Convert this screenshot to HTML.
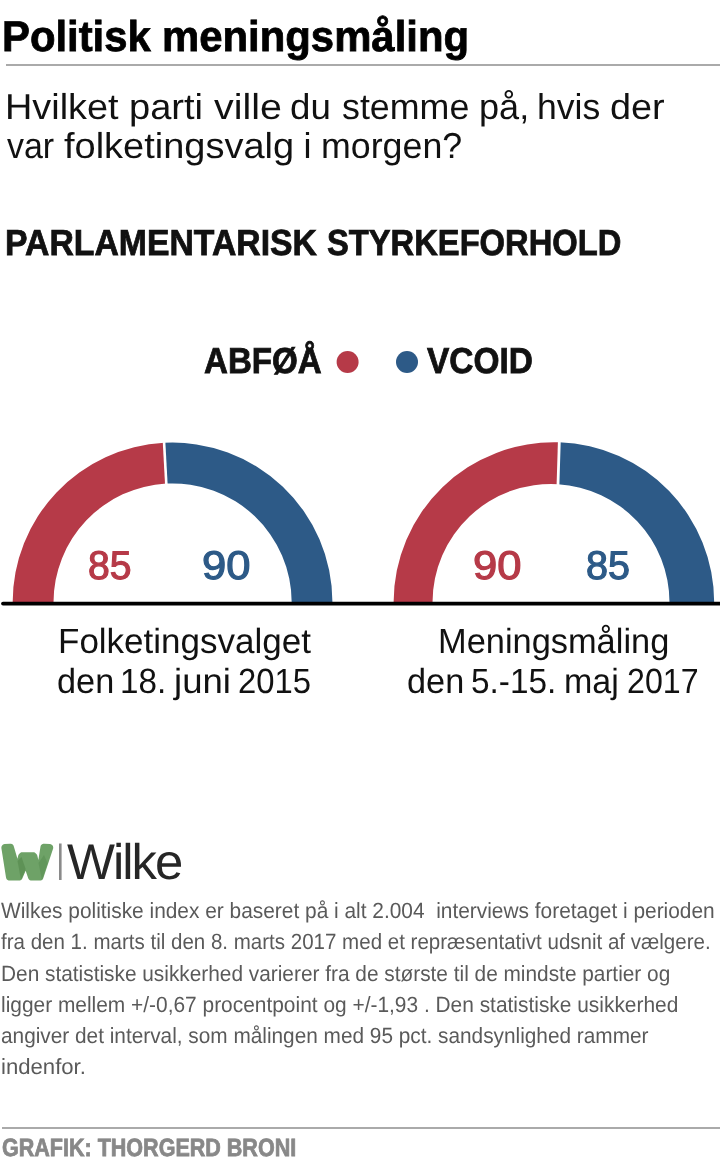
<!DOCTYPE html>
<html><head><meta charset="utf-8">
<style>
html,body{margin:0;padding:0;background:#fff;}
body{width:720px;height:1164px;position:relative;overflow:hidden;font-family:"Liberation Sans",sans-serif;color:#111;text-rendering:geometricPrecision;}
.t{position:absolute;white-space:nowrap;line-height:1;transform-origin:0 0;}
.b{font-weight:bold;-webkit-text-stroke:0.8px currentColor;}
.fn{font-size:22px;color:#5a5a5a;}
</style></head><body><div id="wrap" style="position:absolute;left:0;top:0;width:720px;height:1164px;filter:blur(0.4px);">
<div class="t b" id="title_0" style="color:#000;top:15.6px;font-size:43px;left:2.06px;transform:scaleX(0.9722);">Politisk</div>
<div class="t b" id="title_1" style="color:#000;top:15.6px;font-size:43px;left:162.25px;transform:scaleX(0.9736);">meningsmåling</div>
<div style="position:absolute;left:6px;right:0;top:63.5px;height:2.2px;background:#aaa;"></div>
<div class="t " id="sub1_0" style="top:89.0px;font-size:36px;left:5.05px;transform:scaleX(1.0514);">Hvilket</div>
<div class="t " id="sub1_1" style="top:89.0px;font-size:36px;left:129.38px;transform:scaleX(1.0576);">parti</div>
<div class="t " id="sub1_2" style="top:89.0px;font-size:36px;left:213.80px;transform:scaleX(1.0933);">ville</div>
<div class="t " id="sub1_3" style="top:89.0px;font-size:36px;left:290.16px;transform:scaleX(1.0194);">du</div>
<div class="t " id="sub1_4" style="top:89.0px;font-size:36px;left:341.51px;transform:scaleX(0.9944);">stemme</div>
<div class="t " id="sub1_5" style="top:89.0px;font-size:36px;left:479.40px;transform:scaleX(1.0022);">på,</div>
<div class="t " id="sub1_6" style="top:89.0px;font-size:36px;left:536.74px;transform:scaleX(0.9883);">hvis</div>
<div class="t " id="sub1_7" style="top:89.0px;font-size:36px;left:609.60px;transform:scaleX(1.0510);">der</div>
<div class="t " id="sub2_0" style="top:128.3px;font-size:36px;left:6.80px;transform:scaleX(0.9429);">var</div>
<div class="t " id="sub2_1" style="top:128.3px;font-size:36px;left:63.55px;transform:scaleX(1.0549);">folketingsvalg</div>
<div class="t " id="sub2_2" style="top:128.3px;font-size:36px;left:303.45px;transform:scaleX(1.0000);">i</div>
<div class="t " id="sub2_3" style="top:128.3px;font-size:36px;left:320.52px;transform:scaleX(0.9935);">morgen?</div>
<div class="t b" id="head_0" style="top:225.3px;font-size:36.3px;left:5.14px;transform:scaleX(0.9300);">PARLAMENTARISK</div>
<div class="t b" id="head_1" style="top:225.3px;font-size:36.3px;left:326.60px;transform:scaleX(0.9009);">STYRKEFORHOLD</div>
<div class="t b" id="leg1" style="left:204.08px;top:343px;font-size:36px;transform:scaleX(0.9200);">ABFØÅ</div>
<div class="t b" id="leg2" style="left:427.00px;top:343px;font-size:36px;transform:scaleX(0.9286);">VCOID</div>

<svg style="position:absolute;left:0;top:0" width="720" height="1164">
<circle cx="347.6" cy="362" r="11" fill="#b63a48"/>
<circle cx="407" cy="362" r="11" fill="#2d5a87"/>
<path fill="#b63a48" d="M12.65,602.50 A159.9,159.9 0 0 1 164.10,442.82 L166.30,483.57 A119.1,119.1 0 0 0 53.50,602.50 Z"/>
<path fill="#2d5a87" d="M164.10,442.82 A159.9,159.9 0 0 1 332.45,602.50 L291.70,602.50 A119.1,119.1 0 0 0 166.30,483.57 Z"/>
<path stroke="#fff" stroke-width="2.6" d="M163.94,439.83 L166.46,486.56"/>
<path fill="#b63a48" d="M393.60,602.50 A160.3,160.3 0 0 1 559.30,442.29 L558.00,484.21 A118.5,118.5 0 0 0 432.50,602.50 Z"/>
<path fill="#2d5a87" d="M559.30,442.29 A160.3,160.3 0 0 1 714.20,602.50 L669.50,602.50 A118.5,118.5 0 0 0 558.00,484.21 Z"/>
<path stroke="#fff" stroke-width="2.8" d="M559.39,439.29 L557.91,487.21"/>
<line x1="3" y1="603.6" x2="730" y2="603.6" stroke="#000" stroke-width="3.8" stroke-linecap="round"/>
</svg>

<div class="t " id="n1_0" style="-webkit-text-stroke:1.2px currentColor;top:546.4px;font-size:40px;color:#b63a48;left:87.92px;transform:scaleX(0.9786);">85</div>
<div class="t " id="n2_0" style="-webkit-text-stroke:1.2px currentColor;top:546.4px;font-size:40px;color:#2d5a87;left:202.42px;transform:scaleX(1.0878);">90</div>
<div class="t " id="n3_0" style="-webkit-text-stroke:1.2px currentColor;top:546.4px;font-size:40px;color:#b63a48;left:472.82px;transform:scaleX(1.0878);">90</div>
<div class="t " id="n4_0" style="-webkit-text-stroke:1.2px currentColor;top:546.4px;font-size:40px;color:#2d5a87;left:586.31px;transform:scaleX(0.9881);">85</div>

<div class="t" id="c1" style="left:58px;top:624.4px;font-size:35px;">Folketingsvalget</div>
<div class="t " id="c2_0" style="top:664.4px;font-size:35px;left:57.34px;transform:scaleX(0.9796);">den</div>
<div class="t " id="c2_1" style="top:664.4px;font-size:35px;left:120.05px;transform:scaleX(0.9488);">18.</div>
<div class="t " id="c2_2" style="top:664.4px;font-size:35px;left:173.95px;transform:scaleX(1.0453);">juni</div>
<div class="t " id="c2_3" style="top:664.4px;font-size:35px;left:238.13px;transform:scaleX(0.9373);">2015</div>
<div class="t" id="c3" style="left:437.65px;top:624.4px;font-size:35px;transform:scaleX(0.9825);">Meningsmåling</div>
<div class="t " id="c4_0" style="top:664.4px;font-size:35px;left:406.94px;transform:scaleX(0.9796);">den</div>
<div class="t " id="c4_1" style="top:664.4px;font-size:35px;left:471.40px;transform:scaleX(0.9524);">5.-15.</div>
<div class="t " id="c4_2" style="top:664.4px;font-size:35px;left:564.26px;transform:scaleX(0.9712);">maj</div>
<div class="t " id="c4_3" style="top:664.4px;font-size:35px;left:627.06px;transform:scaleX(0.9189);">2017</div>

<svg style="position:absolute;left:0;top:830px" width="70" height="60">
<path d="M4.63,14.11 L3.68,14.33 L2.82,14.80 L2.12,15.48 L1.63,16.33 L1.39,17.28 L1.40,18.26 L6.01,47.56 L6.31,48.53 L6.86,49.38 L7.63,50.04 L8.56,50.46 L9.57,50.60 L19.02,50.60 L20.05,50.45 L21.00,50.00 L21.78,49.31 L22.33,48.41 L25.64,40.67 L28.23,48.18 L28.63,48.97 L29.20,49.65 L29.93,50.17 L30.76,50.49 L31.64,50.60 L38.91,50.60 L39.11,50.57 L39.33,50.60 L39.84,50.60 L40.73,50.49 L41.56,50.16 L42.29,49.64 L42.87,48.95 L43.25,48.14 L53.06,18.82 L53.23,17.91 L53.17,16.98 L52.88,16.10 L52.37,15.32 L51.67,14.70 L50.84,14.28 L49.94,14.09 L44.32,13.63 L43.43,13.67 L42.57,13.93 L41.80,14.39 L41.17,15.02 L40.72,15.80 L40.47,16.66 L38.37,29.99 L37.27,25.59 L36.95,24.76 L36.44,24.04 L35.84,23.38 L35.07,22.74 L34.16,22.34 L33.17,22.20 L22.33,22.20 L21.34,22.34 L20.43,22.74 L19.66,23.38 L19.06,24.04 L18.55,24.76 L18.23,25.59 L17.45,28.71 L13.77,16.20 L13.37,15.30 L12.73,14.54 L11.91,13.98 L10.98,13.67 L9.99,13.63 L4.63,14.11 Z" fill="#6ea267"/>
<path d="M17.5,31 L21,50 L25.7,39 L21.5,27 Z" fill="#5a8f53" opacity="0.8"/>
<path d="M38.5,33 L42,50 L47.5,33 L44,25 Z" fill="#5a8f53" opacity="0.6"/>
<rect x="59" y="13.5" width="2.6" height="36.5" fill="#8a8a8a"/>
</svg>
<div class="t" id="wilke" style="transform:scaleX(1.017);left:67.1px;top:836.9px;font-size:50px;color:#262626;letter-spacing:-2px;">Wilke</div>

<div class="t fn" id="f1" style="left:1.00px;top:899.9px;transform:scaleX(0.9490);">Wilkes politiske index er baseret på i alt 2.004&nbsp; interviews foretaget i perioden</div>
<div class="t fn" id="f2" style="left:1.00px;top:931.4px;transform:scaleX(0.9330);">fra den 1. marts til den 8. marts 2017 med et repræsentativt udsnit af vælgere.</div>
<div class="t fn" id="f3" style="left:1.00px;top:963.2px;transform:scaleX(0.9470);">Den statistiske usikkerhed varierer fra de største til de mindste partier og</div>
<div class="t fn" id="f4" style="left:1.00px;top:994.1px;transform:scaleX(0.9500);">ligger mellem +/-0,67 procentpoint og +/-1,93 . Den statistiske usikkerhed</div>
<div class="t fn" id="f5" style="left:1.00px;top:1024.9px;transform:scaleX(0.9455);">angiver det interval, som målingen med 95 pct. sandsynlighed rammer</div>
<div class="t fn" id="f6" style="left:1.00px;top:1055.7px;transform:scaleX(1.0060);">indenfor.</div>

<div style="position:absolute;left:1.5px;right:0;top:1127.2px;height:2.2px;background:#aaa;"></div>
<div class="t b" id="graf" style="left:1.94px;top:1135.6px;font-size:25px;color:#888;transform:scaleX(0.8610);">GRAFIK: THORGERD BRONI</div>
</div></body></html>
